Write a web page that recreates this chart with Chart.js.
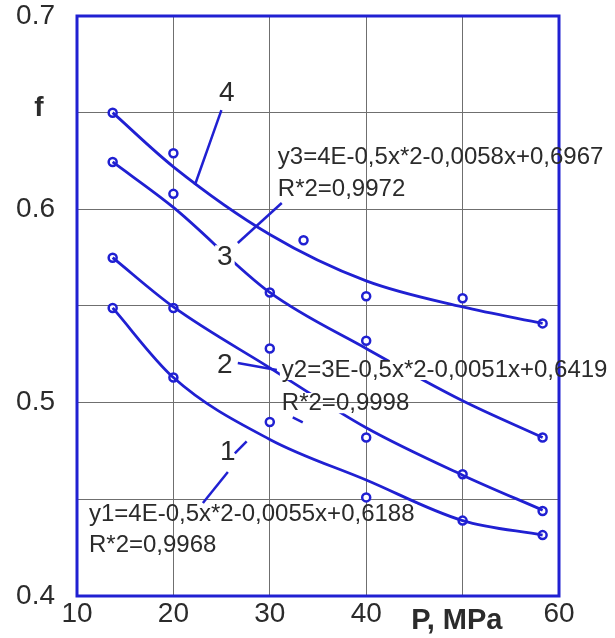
<!DOCTYPE html>
<html>
<head>
<meta charset="utf-8">
<script src="https://cdn.jsdelivr.net/npm/chart.js@4.4.1/dist/chart.umd.min.js"></script>
<style>
  html, body { margin: 0; padding: 0; background: #fff; }
  #wrap { width: 615px; height: 638px; position: relative; }
</style>
</head>
<body>
<div id="wrap"><canvas id="chart"></canvas></div>
<script>
/* ---- values ---- */

// fitted curves (1..4), sampled at these P values
const curveX = [13.7, 20, 30, 40, 50, 58.3];
const curve1 = [0.549, 0.513, 0.481, 0.460, 0.439, 0.4315];
const curve2 = [0.575, 0.5495, 0.518, 0.487, 0.4625, 0.4444];
const curve3 = [0.6245, 0.601, 0.557, 0.528, 0.501, 0.482];
const curve4 = [0.650, 0.622, 0.587, 0.563, 0.5495, 0.541];

// measured points
const pts1X = [13.7, 20, 30, 40, 50, 58.3];
const pts1Y = [0.549, 0.513, 0.490, 0.451, 0.439, 0.4315];
const pts2X = [13.7, 20, 30, 40, 50, 58.3];
const pts2Y = [0.575, 0.549, 0.528, 0.482, 0.463, 0.444];
const pts3X = [13.7, 20, 30, 40, 58.3];
const pts3Y = [0.6245, 0.608, 0.557, 0.532, 0.482];
const pts4X = [13.7, 20, 33.5, 40, 50, 58.3];
const pts4Y = [0.650, 0.629, 0.584, 0.555, 0.554, 0.541];

// tick labels (keys: x value, y value * 100)
const xTickLabels = { 10: '10', 20: '20', 30: '30', 40: '40', 60: '60' };
const yTickLabels = { 40: '0.4', 50: '0.5', 60: '0.6', 70: '0.7' };

// texts placed in data units
const notes = [
  { text: 'y3=4E-0,5x*2-0,0058x+0,6967', x: 30.83, y: 0.627, size: 24 },
  { text: 'R*2=0,9972', x: 30.83, y: 0.6105, size: 24 },
  { text: 'y2=3E-0,5x*2-0,0051x+0,6419', x: 31.25, y: 0.5169, size: 24 },
  { text: 'R*2=0,9998', x: 31.25, y: 0.4998, size: 24 },
  { text: 'y1=4E-0,5x*2-0,0055x+0,6188', x: 11.24, y: 0.4424, size: 24 },
  { text: 'R*2=0,9968', x: 11.24, y: 0.4263, size: 24 },
  { text: '4', x: 25.54, y: 0.6602, size: 28, align: 'center' },
  { text: '3', x: 25.34, y: 0.5753, size: 28, align: 'center' },
  { text: '2', x: 25.34, y: 0.5194, size: 28, align: 'center' },
  { text: '1', x: 25.65, y: 0.4744, size: 28, align: 'center' },
  { text: 'f', x: 6.06, y: 0.6524, size: 28, weight: 'bold', align: 'center', nomask: true },
  { text: 'P, MPa', x: 49.4, y: 0.387, size: 29, weight: 'bold', align: 'center', nomask: true }
];

// leader lines from the numbers / equations to the curves
const leaders = [
  [24.98, 0.6513, 22.23, 0.6126],
  [31.24, 0.6033, 26.68, 0.5826],
  [26.68, 0.5205, 30.73, 0.5169],
  [32.38, 0.4924, 33.42, 0.4898],
  [27.6, 0.4800, 26.37, 0.4738],
  [25.65, 0.4641, 23.06, 0.4481]
];

const BLUE = 'rgb(32, 32, 210)';
const TEXT = '#2b2b2b';
const FONT = "'Liberation Sans', Arial, sans-serif";

const toXY = (xs, ys) => xs.map((x, i) => ({ x, y: ys[i] }));

function curveSet(ys) {
  return {
    data: toXY(curveX, ys), showLine: true, borderColor: BLUE, borderWidth: 2.8,
    pointRadius: 0, cubicInterpolationMode: 'monotone', fill: false
  };
}
function pointSet(xs, ys) {
  return {
    data: toXY(xs, ys), showLine: false, pointRadius: 4, pointBorderWidth: 2.5,
    pointBorderColor: BLUE, pointBackgroundColor: '#fff'
  };
}

function noteFont(n) { return `${n.weight || 'normal'} ${n.size}px ${FONT}`; }

// boxes of the texts, used to cut the curves where a text sits on them
function noteBoxes(chart) {
  const { ctx, scales: { x, y } } = chart;
  return notes.filter(n => !n.nomask).map(n => {
    ctx.font = noteFont(n);
    const w = ctx.measureText(n.text).width;
    const px = x.getPixelForValue(n.x), py = y.getPixelForValue(n.y);
    const left = n.align === 'center' ? px - w / 2 : px;
    return [left - 2, py - n.size * 0.42, w + 4, n.size * 0.84];
  });
}

const overlay = {
  id: 'overlay',
  beforeDatasetsDraw(chart) {
    const { ctx, width, height } = chart;
    ctx.save();
    ctx.beginPath();
    ctx.rect(0, 0, width, height);
    noteBoxes(chart).forEach(b => ctx.rect(b[0], b[1], b[2], b[3]));
    ctx.clip('evenodd');
  },
  afterDatasetsDraw(chart) {
    const { ctx, chartArea: a, scales: { x, y } } = chart;
    ctx.restore();

    ctx.save();
    // frame
    ctx.strokeStyle = BLUE;
    ctx.lineWidth = 3;
    ctx.strokeRect(a.left, a.top, a.right - a.left, a.bottom - a.top);

    // leaders
    ctx.lineWidth = 2.5;
    leaders.forEach(l => {
      ctx.beginPath();
      ctx.moveTo(x.getPixelForValue(l[0]), y.getPixelForValue(l[1]));
      ctx.lineTo(x.getPixelForValue(l[2]), y.getPixelForValue(l[3]));
      ctx.stroke();
    });

    // texts
    ctx.fillStyle = TEXT;
    ctx.textBaseline = 'middle';
    notes.forEach(n => {
      ctx.font = noteFont(n);
      ctx.textAlign = n.align === 'center' ? 'center' : 'left';
      ctx.fillText(n.text, x.getPixelForValue(n.x), y.getPixelForValue(n.y));
    });
    ctx.restore();
  }
};

new Chart(document.getElementById('chart'), {
  type: 'scatter',
  data: {
    datasets: [
      curveSet(curve1), curveSet(curve2), curveSet(curve3), curveSet(curve4),
      pointSet(pts1X, pts1Y), pointSet(pts2X, pts2Y),
      pointSet(pts3X, pts3Y), pointSet(pts4X, pts4Y)
    ]
  },
  options: {
    responsive: true,
    maintainAspectRatio: false,
    animation: false,
    devicePixelRatio: 1,
    layout: { autoPadding: false, padding: { top: 16, right: 56, left: 0, bottom: 0 } },
    plugins: { legend: { display: false }, tooltip: { enabled: false } },
    scales: {
      x: {
        type: 'linear', min: 10, max: 60,
        afterFit: s => { s.height = 42; s.paddingLeft = 0; s.paddingRight = 0; },
        grid: { color: '#6f6f6f', lineWidth: 1, drawTicks: false },
        border: { display: false },
        ticks: {
          stepSize: 10, autoSkip: false, maxRotation: 0, padding: 1,
          color: TEXT, font: { family: FONT, size: 28 },
          callback: v => xTickLabels[Math.round(v)] ?? ''
        }
      },
      y: {
        type: 'linear', min: 0.4, max: 0.7,
        afterFit: s => { s.width = 77; s.paddingTop = 0; s.paddingBottom = 0; },
        grid: { color: '#6f6f6f', lineWidth: 1, drawTicks: false },
        border: { display: false },
        ticks: {
          stepSize: 0.05, autoSkip: false, padding: 22,
          color: TEXT, font: { family: FONT, size: 28 },
          callback: v => yTickLabels[Math.round(v * 100)] ?? ''
        }
      }
    }
  },
  plugins: [overlay]
});
</script>
</body>
</html>
